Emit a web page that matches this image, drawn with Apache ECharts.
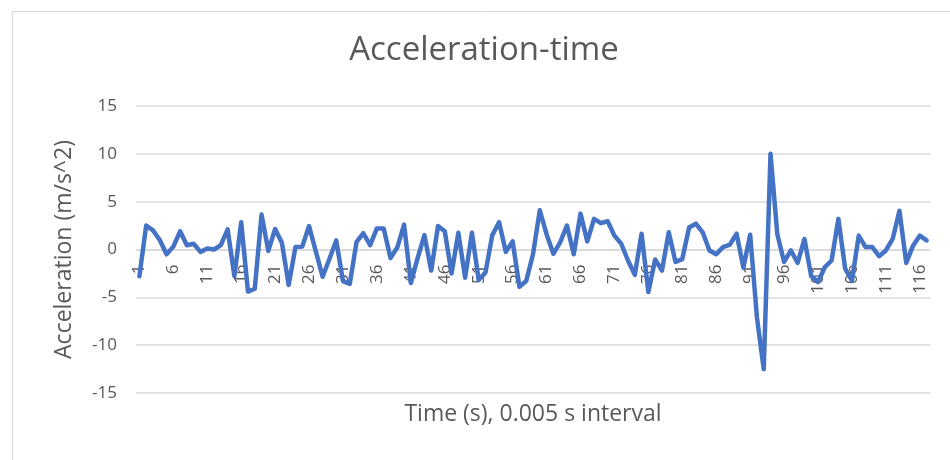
<!DOCTYPE html>
<html>
<head>
<meta charset="utf-8">
<style>
  html, body { margin: 0; padding: 0; background: #ffffff; }
  #chart { width: 950px; height: 460px; }
</style>
<script src="https://cdn.jsdelivr.net/npm/echarts@6/dist/echarts.min.js"></script>
</head>
<body>
<div id="chart"></div>
<script>
// Acceleration samples (m/s^2), one every 0.005 s
const accel = [
  -2.8, 2.5, 2.0, 1.0, -0.5, 0.3, 1.9, 0.45, 0.6, -0.25,
  0.1, 0.0, 0.45, 2.1, -2.8, 2.85, -4.4, -4.1, 3.65, -0.15,
  2.15, 0.7, -3.7, 0.25, 0.3, 2.45, -0.2, -2.85, -1.0, 0.95,
  -3.3, -3.6, 0.8, 1.7, 0.45, 2.2, 2.2, -0.9, 0.2, 2.6,
  -3.5, -0.9, 1.5, -2.2, 2.45, 1.9, -2.5, 1.75, -2.95, 1.75,
  -3.2, -2.4, 1.5, 2.85, -0.25, 0.85, -3.9, -3.3, -0.5, 4.1,
  1.6, -0.45, 0.75, 2.5, -0.5, 3.75, 0.85, 3.2, 2.75, 2.95,
  1.45, 0.6, -1.15, -2.65, 1.65, -4.45, -1.05, -2.2, 1.8, -1.3,
  -1.0, 2.3, 2.7, 1.8, -0.1, -0.5, 0.25, 0.5, 1.65, -1.9,
  1.55, -7.1, -12.5, 10.0, 1.6, -1.3, -0.1, -1.4, 1.1, -2.8,
  -3.4, -1.85, -1.15, 3.2, -2.0, -3.25, 1.45, 0.25, 0.25, -0.7,
  -0.1, 1.1, 4.05, -1.4, 0.4, 1.45, 0.95
];

// Sample numbers along the time axis
const samples = accel.map((_, i) => String(i + 1));

// Value-axis range; the category axis crosses it at zero
const yMin = -15;
const yMax = 15;
const yStep = 5;

const titleText = 'Acceleration-time';
const xName = 'Time (s), 0.005 s interval';
const yName = 'Acceleration (m/s^2)';

const textColor = '#595959';
const gridColor = '#d9d9d9';
const fontFamily = 'Open Sans, Noto Sans, sans-serif';

const gridTop = 106;
const gridBottom = 67;
const chartHeight = 460;

const chart = echarts.init(document.getElementById('chart'), null, { renderer: 'canvas' });

// Move the category axis up from the bottom edge to where the value axis is zero
const plotHeight = chartHeight - gridTop - gridBottom;
const zeroOffset = -plotHeight * (0 - yMin) / (yMax - yMin);

chart.setOption({
  backgroundColor: '#ffffff',
  animation: false,
  graphic: [{
    type: 'rect',
    shape: { x: 12.5, y: 11.5, width: 960, height: 470 },
    style: { fill: 'none', stroke: gridColor, lineWidth: 1 },
    silent: true,
    z: -1
  }],
  title: {
    text: titleText,
    left: 479,
    top: 29,
    textAlign: 'center',
    textStyle: {
      color: textColor,
      fontFamily: fontFamily,
      fontSize: 33,
      fontWeight: 'normal'
    }
  },
  grid: {
    left: 136, right: 20, top: gridTop, bottom: gridBottom,
    containLabel: false,
    outerBoundsMode: 'none'
  },
  xAxis: {
    type: 'category',
    data: samples,
    boundaryGap: true,
    offset: zeroOffset,
    name: xName,
    nameLocation: 'middle',
    nameGap: 153,
    nameMoveOverlap: false,
    nameTextStyle: { color: textColor, fontFamily: fontFamily, fontSize: 23 },
    axisLine: { onZero: false, lineStyle: { color: gridColor, width: 1.5 } },
    axisTick: { show: false },
    axisLabel: {
      interval: 4,
      rotate: 90,
      color: textColor,
      fontFamily: fontFamily,
      fontSize: 17,
      margin: 15
    },
    splitLine: { show: false }
  },
  yAxis: {
    type: 'value',
    min: yMin,
    max: yMax,
    interval: yStep,
    name: yName,
    nameLocation: 'middle',
    nameGap: 60,
    nameMoveOverlap: false,
    nameTextStyle: { color: textColor, fontFamily: fontFamily, fontSize: 23 },
    axisLine: { show: false },
    axisTick: { show: false },
    axisLabel: { color: textColor, fontFamily: fontFamily, fontSize: 17, margin: 19 },
    splitLine: { lineStyle: { color: gridColor, width: 1.5 } }
  },
  series: [{
    type: 'line',
    data: accel,
    showSymbol: false,
    symbol: 'none',
    lineStyle: { color: '#4472c4', width: 4.5, cap: 'round', join: 'round' },
    itemStyle: { color: '#4472c4' }
  }]
});
</script>
</body>
</html>
